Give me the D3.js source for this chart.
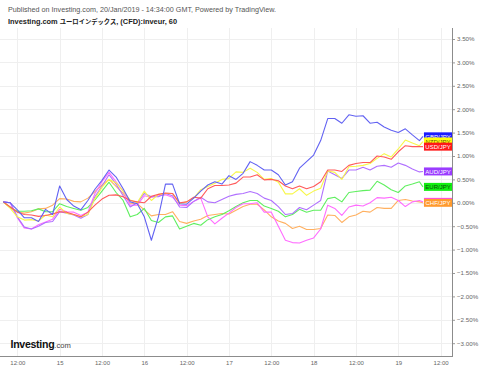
<!DOCTYPE html>
<html><head><meta charset="utf-8">
<script src="https://cdn.jsdelivr.net/npm/d3@7"></script>
<style>
html,body{margin:0;padding:0;background:#fff;}
svg{display:block;font-family:"Liberation Sans",Arial,"Noto Sans CJK JP",sans-serif;}
</style></head><body>
<svg id="c" width="480" height="369"></svg>
<script>
// ---- data (percent change, 60-minute bars, hours since 14 Jan 00:00) ----
const hours = [...d3.range(8, 127, 2), 127];
const seriesNames = ["CHF/JPY","EUR/JPY","CAD/JPY","AUD/JPY","NZD/JPY","USD/JPY","GBP/JPY"];
const chf = [0.02,-0.1,-0.2,-0.22,-0.19,-0.13,-0.12,-0.05,0.09,0.08,0.03,0.02,0.1,0.24,0.38,0.5,0.35,0.2,-0.01,-0.02,-0.15,-0.28,-0.25,-0.25,-0.19,-0.4,-0.44,-0.39,-0.35,-0.27,-0.25,-0.23,-0.24,-0.16,-0.08,-0.03,-0.03,-0.15,-0.3,-0.39,-0.44,-0.55,-0.5,-0.57,-0.57,-0.55,-0.26,-0.27,-0.42,-0.3,-0.26,-0.18,-0.2,-0.1,-0.12,-0.12,0.05,0.07,0.04,0.02,0.0];
const eur = [0.02,-0.1,-0.18,-0.18,-0.17,-0.13,-0.19,-0.19,-0.02,-0.08,-0.12,-0.16,-0.1,0.06,0.25,0.44,0.22,0.05,-0.3,-0.25,-0.12,-0.38,-0.42,-0.3,-0.28,-0.56,-0.5,-0.44,-0.48,-0.36,-0.3,-0.25,-0.17,-0.08,0.0,0.05,0.05,-0.07,-0.12,-0.18,-0.3,-0.25,-0.14,-0.2,-0.16,-0.16,0.09,0.12,0.02,0.22,0.24,0.26,0.27,0.46,0.38,0.28,0.22,0.36,0.4,0.45,0.34];
const cad = [0.02,0.0,-0.32,-0.54,-0.56,-0.47,-0.41,-0.35,-0.14,-0.19,-0.2,-0.27,-0.2,0.2,0.45,0.65,0.45,0.25,-0.05,-0.05,0.15,0.12,0.15,0.17,0.12,-0.05,-0.06,0.03,0.1,-0.3,-0.45,-0.33,-0.22,-0.1,-0.02,-0.02,0.0,-0.2,-0.2,-0.5,-0.8,-0.85,-0.86,-0.8,-0.75,-0.56,-0.05,-0.12,-0.27,-0.09,-0.05,-0.07,0.0,0.11,0.1,0.12,0.05,-0.08,0.02,0.05,0.02];
const aud = [0.02,0.0,-0.3,-0.52,-0.56,-0.5,-0.42,-0.4,-0.19,-0.22,-0.26,-0.33,-0.25,0.13,0.36,0.6,0.4,0.15,-0.09,0.0,0.2,0.13,0.13,0.2,0.15,-0.09,-0.1,0.03,0.12,0.02,0.0,0.07,0.14,0.18,0.2,0.24,0.2,0.1,0.05,-0.08,-0.25,-0.23,-0.1,-0.15,-0.05,0.05,0.68,0.6,0.52,0.7,0.7,0.76,0.7,0.78,0.8,0.76,0.85,0.8,0.72,0.66,0.67];
const nzd = [0.02,-0.12,-0.3,-0.37,-0.36,-0.39,-0.26,-0.3,-0.09,-0.23,-0.25,-0.3,-0.25,0.09,0.33,0.5,0.43,0.25,0.06,0.0,0.25,0.05,0.18,0.2,0.2,-0.02,0.02,0.1,0.28,0.35,0.42,0.5,0.52,0.66,0.65,0.74,0.65,0.5,0.52,0.44,0.19,0.19,0.3,0.16,0.25,0.31,0.68,0.65,0.5,0.77,0.78,0.8,0.84,0.95,1.05,0.98,1.15,1.34,1.28,1.22,1.31];
const usd = [0.02,-0.09,-0.2,-0.25,-0.26,-0.29,-0.27,-0.24,-0.19,-0.2,-0.25,-0.3,-0.2,-0.05,0.08,0.16,0.17,0.13,0.05,0.02,0.0,0.14,0.18,0.21,0.2,0.0,0.02,0.12,0.1,0.3,0.37,0.37,0.38,0.42,0.55,0.55,0.6,0.49,0.5,0.47,0.36,0.3,0.36,0.3,0.35,0.45,0.7,0.7,0.67,0.8,0.84,0.86,0.86,1.0,0.98,0.93,1.09,1.22,1.2,1.2,1.2];
const gbp = [0.02,0.0,-0.15,-0.32,-0.32,-0.4,-0.14,-0.25,0.36,0.07,-0.07,-0.15,0.05,0.29,0.48,0.7,0.55,0.3,0.02,-0.02,-0.3,-0.8,-0.3,0.4,0.4,-0.02,-0.03,0.1,0.25,0.38,0.45,0.4,0.58,0.5,0.63,0.88,0.8,0.7,0.7,0.6,0.38,0.45,0.74,0.88,1.02,1.33,1.8,1.8,1.7,1.88,1.85,1.86,1.7,1.72,1.62,1.55,1.5,1.58,1.45,1.33,1.42];
const seriesValues = [chf, eur, cad, aud, nzd, usd, gbp];
const lineColors  = ["#ffb060","#5fef5f","#ff6cff","#b070ff","#f7f74a","#ff5a5a","#6262f2"];
const labelColors = ["#ff9a2e","#12ee12","#ff40ff","#9a3cff","#ffff10","#ff1818","#1c1cff"];
const labelText   = ["#fff","#0d4d0d",null,"#fff","#665500","#fff","#fff"];
const labelOrder  = [6,4,5,3,1,2,0];
const yTicks = d3.range(-3, 3.51, 0.5);
const xTickTimes = ["2019-01-14T12:00Z","2019-01-15T00:00Z","2019-01-15T12:00Z","2019-01-16T00:00Z","2019-01-16T12:00Z","2019-01-17T00:00Z","2019-01-17T12:00Z","2019-01-18T00:00Z","2019-01-18T12:00Z","2019-01-19T00:00Z","2019-01-19T12:00Z"];
const xTickLabels = ["12:00","15","12:00","16","12:00","17","12:00","18","12:00","19","12:00"];
const titleLine1 = "Published on Investing.com, 20/Jan/2019 - 14:34:00 GMT, Powered by TradingView.";
const titleLine2 = ["Investing.com ", "ユーロインデックス", ", (CFD):inveur, 60"];

// ---- layout ----
const svg = d3.select("#c");
const plotL = 0, plotR = 452, plotT = 28, plotB = 356;
const t0 = new Date("2019-01-14T00:00Z");
const x = d3.scaleUtc().domain([t0, new Date("2019-01-19T12:00Z")]).range([-25, 440.6]);
const y = d3.scaleLinear().domain([-3, 3.5]).range([343.2, 39]);
const tOf = h => new Date(t0.getTime() + h * 3600e3);

// grid
const g = svg.append("g");
g.selectAll(".hg").data(yTicks).join("line")
  .attr("x1", plotL).attr("x2", plotR).attr("y1", d => Math.round(y(d)) + 0.5).attr("y2", d => Math.round(y(d)) + 0.5)
  .attr("stroke", "#efefef").attr("stroke-width", 1);
g.selectAll(".vg").data(xTickTimes).join("line")
  .attr("x1", d => Math.round(x(new Date(d))) + 0.5).attr("x2", d => Math.round(x(new Date(d))) + 0.5)
  .attr("y1", plotT).attr("y2", plotB)
  .attr("stroke", "#efefef").attr("stroke-width", 1);

// lines
const line = d3.line().x((d, i) => x(tOf(hours[i]))).y(d => y(d));
svg.append("clipPath").attr("id","pc").append("rect")
  .attr("x", plotL).attr("y", plotT).attr("width", plotR - plotL).attr("height", plotB - plotT);
const lg = svg.append("g").attr("clip-path","url(#pc)");
seriesValues.forEach((vals, k) => {
  lg.append("path").attr("d", line(vals)).attr("fill","none")
    .attr("stroke", lineColors[k]).attr("stroke-width", 1.1).attr("stroke-linejoin","round");
});

// right axis
const ya = d3.axisRight(y).tickValues(yTicks).tickSize(3).tickPadding(2)
  .tickFormat(d => d3.format(".2f")(d) + "%");
const yg = svg.append("g").attr("transform", `translate(${plotR},0)`).call(ya);
yg.select(".domain").remove();
yg.selectAll("line").attr("stroke","#999");
yg.selectAll("text").attr("fill","#666").attr("font-size", 6.2);
svg.append("line").attr("x1", plotR + 0.5).attr("x2", plotR + 0.5).attr("y1", plotT).attr("y2", plotB + 0.5)
  .attr("stroke","#8c8c8c").attr("stroke-width",1);

// bottom axis
const xa = d3.axisBottom(x).tickValues(xTickTimes.map(d => new Date(d))).tickSize(0).tickPadding(4.5)
  .tickFormat((d, i) => xTickLabels[i]);
const xg = svg.append("g").attr("transform", `translate(0,${plotB})`).call(xa);
xg.select(".domain").remove();
xg.selectAll("text").attr("fill","#666").attr("font-size", 6);
svg.append("line").attr("x1", plotL).attr("x2", plotR + 1).attr("y1", plotB + 0.5).attr("y2", plotB + 0.5)
  .attr("stroke","#8c8c8c").attr("stroke-width",1);

// last-value labels
const lastX = x(tOf(hours[hours.length - 1]));
labelOrder.forEach(k => {
  const v = seriesValues[k][seriesValues[k].length - 1];
  const cy = y(v);
  svg.append("rect").attr("x", lastX + 1).attr("y", cy - 4).attr("width", plotR - lastX - 1).attr("height", 8)
    .attr("fill", labelColors[k]);
  if (labelText[k]) {
    svg.append("text").attr("x", (lastX + 1 + plotR) / 2).attr("y", cy + 2.2).attr("text-anchor","middle")
      .attr("font-size", 6).attr("fill", labelText[k]).text(seriesNames[k]);
  }
});

// titles
svg.append("text").attr("x", 8).attr("y", 12).attr("font-size", 7.2).attr("fill","#555").text(titleLine1);
const t2 = svg.append("text").attr("x", 8).attr("y", 24).attr("font-weight","bold").attr("fill","#222");
t2.append("tspan").attr("font-size", 7.4).text(titleLine2[0]);
t2.append("tspan").attr("font-size", 6.3).attr("font-family", "'Noto Sans CJK JP',sans-serif").text(titleLine2[1]);
t2.append("tspan").attr("font-size", 7.4).text(titleLine2[2]);

// logo
const logo = svg.append("text").attr("x", 10.5).attr("y", 348);
logo.append("tspan").attr("font-size", 10.6).attr("font-weight","bold").attr("fill","#111").attr("letter-spacing","-0.3").text("Investing");
logo.append("tspan").attr("font-size", 7.6).attr("fill","#444").text(".com");
</script></body></html>
